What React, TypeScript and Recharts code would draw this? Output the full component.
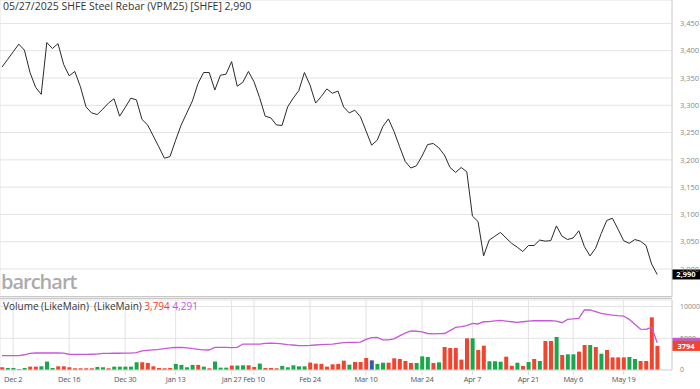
import React from 'react';
import { ComposedChart, Line, Bar, Cell, XAxis, YAxis, CartesianGrid, ReferenceLine } from 'recharts';

// daily closes, Nov 28 2024 -> May 27 2025 (trading days only)
const closes = [
  3370, 3384, 3398, 3412, 3401, 3360, 3333, 3320, 3415, 3404,
  3413, 3375, 3354, 3362, 3334, 3297, 3286, 3283, 3293, 3304,
  3312, 3280, 3296, 3313, 3310, 3274, 3264, 3244, 3224, 3203,
  3206, 3236, 3264, 3286, 3308, 3340, 3360, 3360, 3328, 3355,
  3357, 3380, 3335, 3342, 3362, 3343, 3314, 3280, 3277, 3264,
  3263, 3297, 3313, 3327, 3360, 3337, 3304, 3316, 3330, 3322,
  3326, 3297, 3286, 3291, 3279, 3253, 3227, 3236, 3261, 3275,
  3252, 3224, 3197, 3185, 3189, 3207, 3228, 3230, 3222, 3209,
  3186, 3177, 3186, 3178, 3097, 3087, 3024, 3053, 3060, 3067,
  3057, 3047, 3040, 3032, 3043, 3043, 3053, 3051, 3052, 3079,
  3060, 3054, 3057, 3070, 3041, 3024, 3038, 3065, 3089, 3093,
  3073, 3052, 3047, 3054, 3051, 3043, 3009, 2990,
];

const volumes = [
  430, 320, 320, 160, 320, 530, 530, 580, 1330, 320,
  580, 580, 430, 270, 270, 270, 270, 480, 430, 270,
  530, 530, 530, 530, 1220, 1220, 1110, 580, 320, 270,
  320, 960, 800, 430, 800, 800, 530, 270, 1330, 370,
  370, 690, 690, 740, 740, 480, 1010, 320, 320, 270,
  640, 430, 740, 580, 580, 1170, 1010, 960, 530, 890,
  945, 1470, 840, 1260, 1260, 1890, 1520, 960, 1150, 1150,
  1840, 1730, 1420, 1100, 1100, 2150, 2050, 1100, 1210, 3620,
  3460, 3460, 1630, 4990, 4990, 3150, 3830, 1380, 1380, 1310,
  2100, 680, 1150, 630, 1260, 1730, 1420, 4570, 4570, 5200,
  2360, 2470, 2470, 2890, 3940, 3940, 3620, 2570, 3150, 1990,
  1990, 1990, 2050, 1730, 1420, 1420, 8290, 3794,
];

// r = down, g = up, b = unchanged
const volColors = 'rggggrrggg' + 'rrrrrrrggr' + 'gggggrrrrr' + 'rggggrgrgg' + 'grggrrgrrr'
  + 'ggggg' + 'rrrrr' + 'rrgrrrbggr' + 'rrrrgggrgr' + 'rrrrgrrggg'
  + 'rrgrgrgrrg' + 'rggrrgrgrr' + 'rrggrrrr';

const volAvg = [
  2250, 2250, 2250, 2260, 2400, 2630, 2680, 2680, 2690, 2680,
  2680, 2650, 2480, 2470, 2460, 2470, 2480, 2500, 2630, 2630,
  2640, 2640, 2650, 2650, 2750, 3000, 3100, 3180, 3260, 3380,
  3480, 3540, 3570, 3480, 3350, 3260, 3180, 3150, 3570, 3560,
  3550, 3520, 3570, 4090, 4090, 4090, 4090, 4200, 4210, 4200,
  4120, 4000, 3940, 3840, 3850, 3880, 3940, 3990, 4050, 4090,
  4200, 4300, 4360, 4360, 4400, 4830, 5090, 5150, 4750, 4750,
  4900, 5380, 5800, 6140, 6100, 6000, 5750, 5700, 5720, 5750,
  6200, 6700, 6820, 6980, 7350, 7250, 7600, 7620, 7750, 7800,
  7700, 7600, 7510, 7600, 7700, 7760, 7760, 7760, 7760, 7700,
  7450, 7980, 8050, 8140, 9450, 9450, 9200, 8900, 8770, 8650,
  8550, 8500, 7980, 7200, 6450, 6410, 6720, 4291,
];

const tickIdx = [2, 12, 22, 31, 41, 45, 55, 65, 75, 84, 94, 102, 111];
const tickLabels = ['Dec 2', 'Dec 16', 'Dec 30', 'Jan 13', 'Jan 27', 'Feb 10', 'Feb 24', 'Mar 10', 'Mar 24', 'Apr 7', 'Apr 21', 'May 6', 'May 19'];
const priceTicks = [2950, 3000, 3050, 3100, 3150, 3200, 3250, 3300, 3350, 3400, 3450];
const volTicks = [0, 5000, 10000];

const colorMap: Record<string, string> = { r: '#f2432d', g: '#16a84a', b: '#2d5bbf' };

const data = closes.map((c, i) => ({ i, close: c, vol: volumes[i], avg: volAvg[i] }));

const FONT = '"Open Sans", sans-serif';
const xDomain = [-0.36, 119.64];

const Badge = (props: any) => {
  const { viewBox, text, bg } = props;
  if (!viewBox) return null;
  const x = viewBox.x + viewBox.width;
  const y = viewBox.y;
  return (
    <g>
      <rect x={x} y={y - 5} width={28} height={10} fill={bg} />
      <text x={x + 14} y={y + 3} textAnchor="middle" fill="#fff" fontSize={7.5} fontWeight="bold" fontFamily={FONT}>
        {text}
      </text>
    </g>
  );
};

export default function App() {
  return (
    <div style={{ position: 'absolute', left: 0, top: 0, width: 700, height: 389, background: '#fff', fontFamily: FONT }}>
      <div style={{ position: 'absolute', left: 1, top: 268, fontSize: 20, fontWeight: 600, color: '#ababab', letterSpacing: -1 }}>
        barchart
      </div>
      <div style={{ position: 'absolute', left: 0, top: 0, width: 700, height: 297, overflow: 'hidden' }}>
        <ComposedChart width={700} height={297} data={data} margin={{ top: 0, right: 0, left: 0, bottom: 0 }}>
          <CartesianGrid stroke="#e3e3e3" />
          <XAxis type="number" dataKey="i" domain={xDomain} ticks={tickIdx} height={0} tick={false} axisLine={false} tickLine={false} />
          <YAxis
            orientation="right"
            width={28}
            domain={[2948.7, 3492.9]}
            ticks={priceTicks}
            tickFormatter={(v: number) => v.toLocaleString('en-US')}
            tick={{ fontSize: 7.5, fill: '#888', fontFamily: FONT }}
            tickLine={false}
            axisLine={{ stroke: '#d6d6d6' }}
          />
          <Line type="linear" dataKey="close" stroke="#2a2a2a" strokeWidth={1} dot={false} activeDot={false} isAnimationActive={false} />
          <ReferenceLine y={2990} stroke="none" label={<Badge text="2,990" bg="#000" />} />
        </ComposedChart>
      </div>
      <div style={{ position: 'absolute', left: 3, top: -1, fontSize: 10.5, color: '#333', whiteSpace: 'nowrap' }}>
        05/27/2025 SHFE Steel Rebar (VPM25) [SHFE] 2,990
      </div>
      <div style={{ position: 'absolute', left: 0, top: 296, width: 672, height: 1, borderTop: '1px solid #c9c9c9', borderBottom: '1px solid #c9c9c9', background: '#ececec' }} />
      <div style={{ position: 'absolute', left: 0, top: 298, width: 700, height: 91 }}>
        <ComposedChart width={700} height={91} data={data} margin={{ top: 2, right: 0, left: 0, bottom: 0 }}>
          <CartesianGrid stroke="#e3e3e3" />
          <XAxis
            type="number"
            dataKey="i"
            domain={xDomain}
            ticks={tickIdx}
            interval={0}
            height={19}
            tickFormatter={(v: number) => tickLabels[tickIdx.indexOf(v)]}
            tick={{ fontSize: 7.5, fill: '#555', fontFamily: FONT, letterSpacing: -0.25 }}
            tickLine={{ stroke: '#dcdcdc' }}
            tickSize={5}
            axisLine={{ stroke: '#dcdcdc' }}
          />
          <YAxis
            orientation="right"
            width={28}
            domain={[0, 11024]}
            ticks={volTicks}
            tick={{ fontSize: 7, fill: '#888', fontFamily: FONT }}
            tickLine={false}
            axisLine={{ stroke: '#d6d6d6' }}
          />
          <Bar dataKey="vol" barSize={4} isAnimationActive={false}>
            {data.map((d, i) => (
              <Cell key={i} fill={colorMap[volColors[i]]} />
            ))}
          </Bar>
          <Line type="linear" dataKey="avg" stroke="#c757d8" strokeWidth={1.3} dot={false} activeDot={false} isAnimationActive={false} />
          <ReferenceLine y={4291} stroke="none" label={<Badge text="4291" bg="#c757d8" />} />
          <ReferenceLine y={3794} stroke="none" label={<Badge text="3794" bg="#f2432d" />} />
        </ComposedChart>
      </div>
      <div style={{ position: 'absolute', left: 3, top: 299, fontSize: 10, color: '#333', whiteSpace: 'nowrap' }}>
        Volume (LikeMain)&nbsp; (LikeMain) <span style={{ color: '#f2432d' }}>3,794</span> <span style={{ color: '#c757d8' }}>4,291</span>
      </div>
    </div>
  );
}
